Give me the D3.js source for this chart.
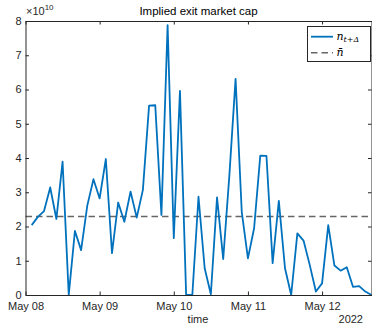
<!DOCTYPE html>
<html><head><meta charset="utf-8">
<script src="https://cdn.jsdelivr.net/npm/d3@7"></script>
<style>
body{margin:0;background:#fff;}
svg{display:block;font-family:"Liberation Sans",Arial,Helvetica,sans-serif;}
</style></head>
<body><svg id="c" width="372" height="325"></svg>
<script>
// ---- data (values in units of 1e10, every 2 hours from 2022-05-08 02:00) ----
const startTime = new Date(2022, 4, 8, 2, 0);
const stepHours = 2;
const capValues = [
  2.04, 2.28, 2.45, 3.14, 2.22, 3.89, 0.00, 1.87, 1.31, 2.61, 3.38,
  2.82, 3.97, 1.22, 2.70, 2.14, 3.02, 2.26, 3.07, 5.53, 5.54, 2.34, 7.88,
  1.66, 5.96, 0.00, 0.00, 2.87, 0.78, 0.02, 2.85, 1.05, 3.50, 6.31, 2.43,
  1.07, 1.95, 4.07, 4.06, 0.93, 2.75, 0.78, 0.00, 1.80, 1.59, 0.88, 0.10,
  0.34, 2.04, 0.86, 0.71, 0.81, 0.24, 0.26, 0.10, 0.00
];
const meanValue = 2.29;
const scaleExp = 1e10;
const yTicks = [0, 1, 2, 3, 4, 5, 6, 7, 8];
const xTickDates = [new Date(2022,4,8), new Date(2022,4,9), new Date(2022,4,10), new Date(2022,4,11), new Date(2022,4,12)];
const xTickLabels = ["May 08", "May 09", "May 10", "May 11", "May 12"];
const titleText = "Implied exit market cap";
const xLabelText = "time";
const yearText = "2022";

const series = capValues.map((v, i) => ({t: new Date(startTime.getTime() + i*stepHours*3600e3), v: v*scaleExp}));

// ---- layout ----
const L = 25.5, R = 371.5, T = 21, B = 295;
const svg = d3.select("#c");
const x = d3.scaleTime().domain([new Date(2022,4,8,0), new Date(2022,4,12,16)]).range([L, R]);
const y = d3.scaleLinear().domain([0, 8*scaleExp]).range([B, T]);
const axisColor = "#262626";
const fs = 11;

// plot background
svg.append("rect").attr("x", L).attr("y", T).attr("width", R-L).attr("height", B-T).attr("fill", "#fff");

// mean line
svg.append("line").attr("x1", L).attr("x2", R).attr("y1", y(meanValue*scaleExp)).attr("y2", y(meanValue*scaleExp))
  .attr("stroke", "#666").attr("stroke-width", 1.5).attr("stroke-dasharray", "6.5,4");

// data line
const line = d3.line().x(d => x(d.t)).y(d => y(d.v));
svg.append("path").datum(series).attr("d", line).attr("fill", "none")
  .attr("stroke", "#0072BD").attr("stroke-width", 1.8).attr("stroke-linejoin", "round");

// axes
function styleAxis(g){
  g.select(".domain").attr("stroke", axisColor).attr("stroke-width", 1);
  g.selectAll(".tick line").attr("stroke", axisColor).attr("stroke-width", 1);
  g.selectAll("text").attr("fill", axisColor).attr("font-size", fs).attr("font-family", "Liberation Sans, Arial, sans-serif");
}
const fmtX = d => xTickLabels[xTickDates.findIndex(t => t.getTime() === d.getTime())];
svg.append("g").attr("transform", `translate(0,${B})`)
  .call(d3.axisBottom(x).tickValues(xTickDates).tickFormat(fmtX).tickSizeInner(-3.5).tickSizeOuter(0).tickPadding(7))
  .call(styleAxis);
svg.append("g").attr("transform", `translate(0,${T})`)
  .call(d3.axisTop(x).tickValues(xTickDates).tickFormat("").tickSizeInner(-3.5).tickSizeOuter(0))
  .call(styleAxis);
const yAx = svg.append("g").attr("transform", `translate(${L},0)`)
  .call(d3.axisLeft(y).tickValues(yTicks.map(v => v*scaleExp)).tickFormat(d => String(Math.round(d/scaleExp))).tickSizeInner(-3.5).tickSizeOuter(0).tickPadding(4))
  .call(styleAxis);
yAx.selectAll("text").attr("dy", "0.3em");
svg.append("g").attr("transform", `translate(${R},0)`)
  .call(d3.axisRight(y).tickValues(yTicks.map(v => v*scaleExp)).tickFormat("").tickSizeInner(-3.5).tickSizeOuter(0))
  .call(styleAxis);

// exponent label
const ex = svg.append("text").attr("x", 26).attr("y", 15).attr("fill", axisColor).attr("font-size", fs);
ex.append("tspan").text("\u00d710");
ex.append("tspan").attr("font-size", 8).attr("dy", -5).text("10");

// title
svg.append("text").attr("x", 198.5).attr("y", 15).attr("text-anchor", "middle").attr("font-size", 11.5).attr("fill", "#000").text(titleText);

// x label and year
svg.append("text").attr("x", 198).attr("y", 322.5).attr("text-anchor", "middle").attr("font-size", fs).attr("fill", axisColor).text(xLabelText);
svg.append("text").attr("x", 363).attr("y", 322.5).attr("text-anchor", "end").attr("font-size", fs).attr("fill", axisColor).text(yearText);

// legend
const lg = svg.append("g");
lg.append("rect").attr("x", 307.5).attr("y", 26.5).attr("width", 63).attr("height", 35)
  .attr("fill", "#fff").attr("stroke", axisColor).attr("stroke-width", 1);
lg.append("line").attr("x1", 311).attr("x2", 333).attr("y1", 36.7).attr("y2", 36.7).attr("stroke", "#0072BD").attr("stroke-width", 1.8);
lg.append("line").attr("x1", 311).attr("x2", 333).attr("y1", 52.7).attr("y2", 52.7).attr("stroke", "#666").attr("stroke-width", 1.5).attr("stroke-dasharray", "6.5,4");
const t1 = lg.append("text").attr("x", 336.5).attr("y", 39.5).attr("font-family", "DejaVu Serif, Liberation Serif, serif").attr("font-style", "italic").attr("font-size", 11).attr("fill", "#000");
t1.append("tspan").text("n");
t1.append("tspan").attr("font-size", 8).attr("dy", 2.5).text("t+\u0394");
const t2 = lg.append("text").attr("x", 336.5).attr("y", 56).attr("font-family", "DejaVu Serif, Liberation Serif, serif").attr("font-style", "italic").attr("font-size", 11).attr("fill", "#000").text("n\u0304");
</script></body></html>
